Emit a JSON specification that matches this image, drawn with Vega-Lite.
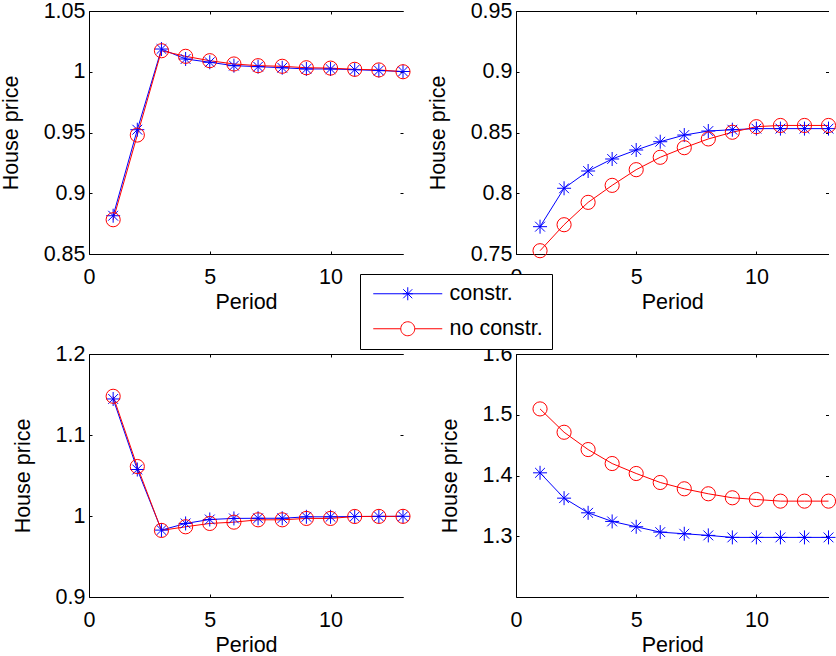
{
  "$schema": "https://vega.github.io/schema/vega-lite/v6.json",
  "padding": {"left": 0, "top": 0, "right": 0, "bottom": 0},
  "background": "white",
  "config": {
    "view": {"stroke": null},
    "axis": {"labelFont": "Liberation Sans", "titleFont": "Liberation Sans", "labelFontSize": 21.5, "titleFontSize": 21.5, "titleFontWeight": "normal", "labelColor": "black", "titleColor": "black", "domainColor": "black", "tickColor": "black", "grid": false, "domainWidth": 1, "tickWidth": 1},
    "legend": {"labelFont": "Liberation Sans", "labelFontSize": 21.5, "labelColor": "black"}
  },
  "data": {"values": [
    {"p":"a","s":"constr.","t":1,"v":0.8815},{"p":"a","s":"constr.","t":2,"v":0.9523},{"p":"a","s":"constr.","t":3,"v":1.0187},{"p":"a","s":"constr.","t":4,"v":1.0105},{"p":"a","s":"constr.","t":5,"v":1.0078},{"p":"a","s":"constr.","t":6,"v":1.0050},{"p":"a","s":"constr.","t":7,"v":1.0042},{"p":"a","s":"constr.","t":8,"v":1.0033},{"p":"a","s":"constr.","t":9,"v":1.0023},{"p":"a","s":"constr.","t":10,"v":1.0023},{"p":"a","s":"constr.","t":11,"v":1.0017},{"p":"a","s":"constr.","t":12,"v":1.0010},{"p":"a","s":"constr.","t":13,"v":1.0002},
    {"p":"a","s":"no constr.","t":1,"v":0.8782},{"p":"a","s":"no constr.","t":2,"v":0.9479},{"p":"a","s":"no constr.","t":3,"v":1.0173},{"p":"a","s":"no constr.","t":4,"v":1.0127},{"p":"a","s":"no constr.","t":5,"v":1.0091},{"p":"a","s":"no constr.","t":6,"v":1.0064},{"p":"a","s":"no constr.","t":7,"v":1.0050},{"p":"a","s":"no constr.","t":8,"v":1.0045},{"p":"a","s":"no constr.","t":9,"v":1.0033},{"p":"a","s":"no constr.","t":10,"v":1.0030},{"p":"a","s":"no constr.","t":11,"v":1.0020},{"p":"a","s":"no constr.","t":12,"v":1.0015},{"p":"a","s":"no constr.","t":13,"v":1.0000},
    {"p":"b","s":"constr.","t":1,"v":0.7725},{"p":"b","s":"constr.","t":2,"v":0.8041},{"p":"b","s":"constr.","t":3,"v":0.8183},{"p":"b","s":"constr.","t":4,"v":0.8282},{"p":"b","s":"constr.","t":5,"v":0.8356},{"p":"b","s":"constr.","t":6,"v":0.8424},{"p":"b","s":"constr.","t":7,"v":0.8479},{"p":"b","s":"constr.","t":8,"v":0.8512},{"p":"b","s":"constr.","t":9,"v":0.8523},{"p":"b","s":"constr.","t":10,"v":0.8532},{"p":"b","s":"constr.","t":11,"v":0.8532},{"p":"b","s":"constr.","t":12,"v":0.8532},{"p":"b","s":"constr.","t":13,"v":0.8532},
    {"p":"b","s":"no constr.","t":1,"v":0.7527},{"p":"b","s":"no constr.","t":2,"v":0.7741},{"p":"b","s":"no constr.","t":3,"v":0.7925},{"p":"b","s":"no constr.","t":4,"v":0.8065},{"p":"b","s":"no constr.","t":5,"v":0.8194},{"p":"b","s":"no constr.","t":6,"v":0.8296},{"p":"b","s":"no constr.","t":7,"v":0.8375},{"p":"b","s":"no constr.","t":8,"v":0.8447},{"p":"b","s":"no constr.","t":9,"v":0.8502},{"p":"b","s":"no constr.","t":10,"v":0.8548},{"p":"b","s":"no constr.","t":11,"v":0.8558},{"p":"b","s":"no constr.","t":12,"v":0.8558},{"p":"b","s":"no constr.","t":13,"v":0.8558},
    {"p":"c","s":"constr.","t":1,"v":1.1445},{"p":"c","s":"constr.","t":2,"v":1.0574},{"p":"c","s":"constr.","t":3,"v":0.9826},{"p":"c","s":"constr.","t":4,"v":0.9908},{"p":"c","s":"constr.","t":5,"v":0.9957},{"p":"c","s":"constr.","t":6,"v":0.9970},{"p":"c","s":"constr.","t":7,"v":0.9972},{"p":"c","s":"constr.","t":8,"v":0.9972},{"p":"c","s":"constr.","t":9,"v":0.9990},{"p":"c","s":"constr.","t":10,"v":0.9990},{"p":"c","s":"constr.","t":11,"v":0.9994},{"p":"c","s":"constr.","t":12,"v":0.9995},{"p":"c","s":"constr.","t":13,"v":0.9996},
    {"p":"c","s":"no constr.","t":1,"v":1.1478},{"p":"c","s":"no constr.","t":2,"v":1.0611},{"p":"c","s":"no constr.","t":3,"v":0.9822},{"p":"c","s":"no constr.","t":4,"v":0.9867},{"p":"c","s":"no constr.","t":5,"v":0.9908},{"p":"c","s":"no constr.","t":6,"v":0.9924},{"p":"c","s":"no constr.","t":7,"v":0.9953},{"p":"c","s":"no constr.","t":8,"v":0.9953},{"p":"c","s":"no constr.","t":9,"v":0.9970},{"p":"c","s":"no constr.","t":10,"v":0.9970},{"p":"c","s":"no constr.","t":11,"v":0.9994},{"p":"c","s":"no constr.","t":12,"v":0.9995},{"p":"c","s":"no constr.","t":13,"v":0.9996},
    {"p":"d","s":"constr.","t":1,"v":1.4044},{"p":"d","s":"constr.","t":2,"v":1.3627},{"p":"d","s":"constr.","t":3,"v":1.3386},{"p":"d","s":"constr.","t":4,"v":1.3244},{"p":"d","s":"constr.","t":5,"v":1.3156},{"p":"d","s":"constr.","t":6,"v":1.3068},{"p":"d","s":"constr.","t":7,"v":1.3041},{"p":"d","s":"constr.","t":8,"v":1.3014},{"p":"d","s":"constr.","t":9,"v":1.2981},{"p":"d","s":"constr.","t":10,"v":1.2981},{"p":"d","s":"constr.","t":11,"v":1.2981},{"p":"d","s":"constr.","t":12,"v":1.2981},{"p":"d","s":"constr.","t":13,"v":1.2981},
    {"p":"d","s":"no constr.","t":1,"v":1.5096},{"p":"d","s":"no constr.","t":2,"v":1.4712},{"p":"d","s":"no constr.","t":3,"v":1.4427},{"p":"d","s":"no constr.","t":4,"v":1.4197},{"p":"d","s":"no constr.","t":5,"v":1.4033},{"p":"d","s":"no constr.","t":6,"v":1.3885},{"p":"d","s":"no constr.","t":7,"v":1.3781},{"p":"d","s":"no constr.","t":8,"v":1.3699},{"p":"d","s":"no constr.","t":9,"v":1.3633},{"p":"d","s":"no constr.","t":10,"v":1.3605},{"p":"d","s":"no constr.","t":11,"v":1.3578},{"p":"d","s":"no constr.","t":12,"v":1.3578},{"p":"d","s":"no constr.","t":13,"v":1.3578}
  ]},
  "columns": 2,
  "spacing": {"row": 30, "column": 14},
  "resolve": {"scale": {"x": "independent", "y": "independent", "color": "shared"}},
  "concat": [
    {
      "width": 314, "height": 243,
      "transform": [{"filter": "datum.p === 'a'"}],
      "layer": [
        {"mark": {"type": "line", "strokeWidth": 1},
         "encoding": {
           "x": {"field": "t", "type": "quantitative", "scale": {"domain": [0, 13], "nice": false, "zero": false}, "axis": {"orient": "bottom", "values": [0, 5, 10], "format": "~f", "title": "Period", "tickSize": -3, "labelPadding": 15, "titlePadding": 4, "labelFlush": false}},
           "y": {"field": "v", "type": "quantitative", "scale": {"domain": [0.85, 1.05], "nice": false, "zero": false}, "axis": {"orient": "left", "values": [0.85, 0.9, 0.95, 1, 1.05], "format": "~f", "title": "House price", "tickSize": -3, "labelPadding": 7, "titlePadding": 21}},
           "color": {"field": "s", "type": "nominal", "scale": {"domain": ["constr.", "no constr."], "range": ["#0000ff", "#ff0000"]},
             "legend": {"orient": "none", "legendX": 271, "legendY": 263, "title": null, "fillColor": "white", "strokeColor": "black", "padding": 9, "symbolSize": 400, "symbolStrokeWidth": 1, "labelOffset": 31, "symbolOffset": 28, "rowPadding": 12, "labelFontSize": 21.5, "labelExpr": "datum.label + '\u00a0\u00a0'",
               "encode": {"symbols": {"update": {"shape": {"signal": "datum.value === 'constr.' ? 'M-3.45,0L3.45,0M0,-0.65L0,0.65M-0.5,0L0.5,0M-0.45,-0.45L0.45,0.45M-0.45,0.45L0.45,-0.45' : 'M-3.45,0L-0.7,0M0.7,0L3.45,0M-0.7,0A0.7,0.7,0,1,0,0.7,0A0.7,0.7,0,1,0,-0.7,0'"}, "fill": {"value": "transparent"}, "strokeWidth": {"value": 1}}}}}}
         }},
        {"transform": [{"filter": "datum.s === 'constr.'"}],
         "mark": {"type": "point", "filled": false, "size": 196, "strokeWidth": 1, "opacity": 1, "color": "#0000ff", "shape": "M-1,0L1,0M0,-1L0,1M-0.7,-0.7L0.7,0.7M-0.7,0.7L0.7,-0.7"},
         "encoding": {
           "x": {"field": "t", "type": "quantitative", "axis": {"orient": "top", "values": [0, 5, 10], "labels": false, "title": null, "tickSize": -3}},
           "y": {"field": "v", "type": "quantitative", "axis": {"orient": "right", "values": [0.85, 0.9, 0.95, 1, 1.05], "labels": false, "title": null, "domain": false, "tickSize": -3}}
         }},
        {"transform": [{"filter": "datum.s === 'no constr.'"}],
         "mark": {"type": "point", "filled": false, "size": 200, "strokeWidth": 1, "opacity": 1, "color": "#ff0000", "shape": "circle"},
         "encoding": {
           "x": {"field": "t", "type": "quantitative", "axis": null},
           "y": {"field": "v", "type": "quantitative", "axis": null}
         }}
      ],
      "resolve": {"axis": {"x": "independent", "y": "independent"}}
    },
    {
      "width": 312.5, "height": 243,
      "transform": [{"filter": "datum.p === 'b'"}],
      "layer": [
        {"mark": {"type": "line", "strokeWidth": 1},
         "encoding": {
           "x": {"field": "t", "type": "quantitative", "scale": {"domain": [0, 13], "nice": false, "zero": false}, "axis": {"orient": "bottom", "values": [0, 5, 10], "format": "~f", "title": "Period", "tickSize": -3, "labelPadding": 15, "titlePadding": 4, "labelFlush": false}},
           "y": {"field": "v", "type": "quantitative", "scale": {"domain": [0.75, 0.95], "nice": false, "zero": false}, "axis": {"orient": "left", "values": [0.75, 0.8, 0.85, 0.9, 0.95], "format": "~f", "title": "House price", "tickSize": -3, "labelPadding": 7, "titlePadding": 21}},
           "color": {"field": "s", "type": "nominal", "legend": null}
         }},
        {"transform": [{"filter": "datum.s === 'constr.'"}],
         "mark": {"type": "point", "filled": false, "size": 196, "strokeWidth": 1, "opacity": 1, "color": "#0000ff", "shape": "M-1,0L1,0M0,-1L0,1M-0.7,-0.7L0.7,0.7M-0.7,0.7L0.7,-0.7"},
         "encoding": {
           "x": {"field": "t", "type": "quantitative", "axis": {"orient": "top", "values": [0, 5, 10], "labels": false, "title": null, "tickSize": -3}},
           "y": {"field": "v", "type": "quantitative", "axis": {"orient": "right", "values": [0.75, 0.8, 0.85, 0.9, 0.95], "labels": false, "title": null, "domain": false, "tickSize": -3}}
         }},
        {"transform": [{"filter": "datum.s === 'no constr.'"}],
         "mark": {"type": "point", "filled": false, "size": 200, "strokeWidth": 1, "opacity": 1, "color": "#ff0000", "shape": "circle"},
         "encoding": {
           "x": {"field": "t", "type": "quantitative", "axis": null},
           "y": {"field": "v", "type": "quantitative", "axis": null}
         }}
      ],
      "resolve": {"axis": {"x": "independent", "y": "independent"}}
    },
    {
      "width": 314, "height": 243,
      "transform": [{"filter": "datum.p === 'c'"}],
      "layer": [
        {"mark": {"type": "line", "strokeWidth": 1},
         "encoding": {
           "x": {"field": "t", "type": "quantitative", "scale": {"domain": [0, 13], "nice": false, "zero": false}, "axis": {"orient": "bottom", "values": [0, 5, 10], "format": "~f", "title": "Period", "tickSize": -3, "labelPadding": 15, "titlePadding": 4, "labelFlush": false}},
           "y": {"field": "v", "type": "quantitative", "scale": {"domain": [0.9, 1.2], "nice": false, "zero": false}, "axis": {"orient": "left", "values": [0.9, 1, 1.1, 1.2], "format": "~f", "title": "House price", "tickSize": -3, "labelPadding": 7, "titlePadding": 21}},
           "color": {"field": "s", "type": "nominal", "legend": null}
         }},
        {"transform": [{"filter": "datum.s === 'constr.'"}],
         "mark": {"type": "point", "filled": false, "size": 196, "strokeWidth": 1, "opacity": 1, "color": "#0000ff", "shape": "M-1,0L1,0M0,-1L0,1M-0.7,-0.7L0.7,0.7M-0.7,0.7L0.7,-0.7"},
         "encoding": {
           "x": {"field": "t", "type": "quantitative", "axis": {"orient": "top", "values": [0, 5, 10], "labels": false, "title": null, "tickSize": -3}},
           "y": {"field": "v", "type": "quantitative", "axis": {"orient": "right", "values": [0.9, 1, 1.1, 1.2], "labels": false, "title": null, "domain": false, "tickSize": -3}}
         }},
        {"transform": [{"filter": "datum.s === 'no constr.'"}],
         "mark": {"type": "point", "filled": false, "size": 200, "strokeWidth": 1, "opacity": 1, "color": "#ff0000", "shape": "circle"},
         "encoding": {
           "x": {"field": "t", "type": "quantitative", "axis": null},
           "y": {"field": "v", "type": "quantitative", "axis": null}
         }}
      ],
      "resolve": {"axis": {"x": "independent", "y": "independent"}}
    },
    {
      "width": 312.5, "height": 243,
      "transform": [{"filter": "datum.p === 'd'"}],
      "layer": [
        {"mark": {"type": "line", "strokeWidth": 1},
         "encoding": {
           "x": {"field": "t", "type": "quantitative", "scale": {"domain": [0, 13], "nice": false, "zero": false}, "axis": {"orient": "bottom", "values": [0, 5, 10], "format": "~f", "title": "Period", "tickSize": -3, "labelPadding": 15, "titlePadding": 4, "labelFlush": false}},
           "y": {"field": "v", "type": "quantitative", "scale": {"domain": [1.2, 1.6], "nice": false, "zero": false}, "axis": {"orient": "left", "values": [1.3, 1.4, 1.5, 1.6], "format": "~f", "title": "House price", "tickSize": -3, "labelPadding": 7, "titlePadding": 21}},
           "color": {"field": "s", "type": "nominal", "legend": null}
         }},
        {"transform": [{"filter": "datum.s === 'constr.'"}],
         "mark": {"type": "point", "filled": false, "size": 196, "strokeWidth": 1, "opacity": 1, "color": "#0000ff", "shape": "M-1,0L1,0M0,-1L0,1M-0.7,-0.7L0.7,0.7M-0.7,0.7L0.7,-0.7"},
         "encoding": {
           "x": {"field": "t", "type": "quantitative", "axis": {"orient": "top", "values": [0, 5, 10], "labels": false, "title": null, "tickSize": -3}},
           "y": {"field": "v", "type": "quantitative", "axis": {"orient": "right", "values": [1.3, 1.4, 1.5, 1.6], "labels": false, "title": null, "domain": false, "tickSize": -3}}
         }},
        {"transform": [{"filter": "datum.s === 'no constr.'"}],
         "mark": {"type": "point", "filled": false, "size": 200, "strokeWidth": 1, "opacity": 1, "color": "#ff0000", "shape": "circle"},
         "encoding": {
           "x": {"field": "t", "type": "quantitative", "axis": null},
           "y": {"field": "v", "type": "quantitative", "axis": null}
         }}
      ],
      "resolve": {"axis": {"x": "independent", "y": "independent"}}
    }
  ]
}
